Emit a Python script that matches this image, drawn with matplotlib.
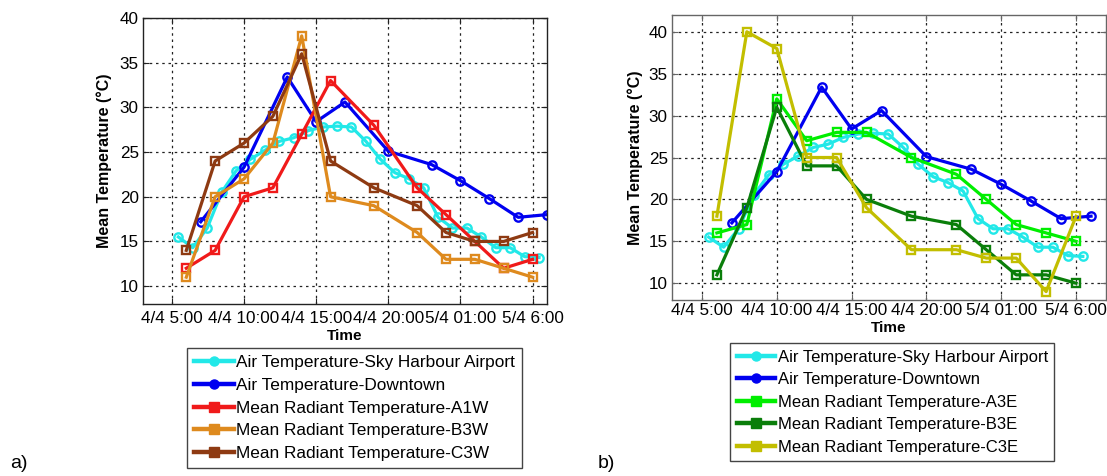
import matplotlib
matplotlib.use("Agg")
import matplotlib.pyplot as plt
from matplotlib.lines import Line2D

plt.rcParams['font.family'] = ['Liberation Sans', 'DejaVu Sans']

# ---- data (hours counted from 4/4 00:00) ----
sky_t = [5.45, 6.45, 7.45, 8.45, 9.45, 10.45, 11.45, 12.45, 13.45, 14.45, 15.45,
         16.45, 17.45, 18.45, 19.45, 20.45, 21.45, 22.45, 23.45, 24.45, 25.45,
         26.45, 27.45, 28.45, 29.45, 30.45]
sky_v = [15.5, 14.3, 16.5, 20.5, 22.9, 24.2, 25.2, 26.2, 26.6, 27.4, 27.8,
         27.9, 27.8, 26.2, 24.2, 22.7, 22.0, 21.0, 17.7, 16.5, 16.5,
         15.5, 14.3, 14.3, 13.3, 13.2]

down_t = [7, 10, 13, 15, 17, 20, 23, 25, 27, 29, 31]
down_v = [17.2, 23.3, 33.4, 28.4, 30.6, 25.1, 23.6, 21.8, 19.8, 17.7, 18.0]

mrt_t = [6, 8, 10, 12, 14, 16, 19, 22, 24, 26, 28, 30]
a1w = [12, 14, 20, 21, 27, 33, 28, 21, 18, 15, 12, 13]
b3w = [11, 20, 22, 26, 38, 20, 19, 16, 13, 13, 12, 11]
c3w = [14, 24, 26, 29, 36, 24, 21, 19, 16, 15, 15, 16]
a3e = [16, 17, 32, 27, 28, 28, 25, 23, 20, 17, 16, 15]
b3e = [11, 19, 31, 24, 24, 20, 18, 17, 14, 11, 11, 10]
c3e = [18, 40, 38, 25, 25, 19, 14, 14, 13, 13, 9, 18]

tick_pos = [5, 10, 15, 20, 25, 30]
tick_labels = ["4/4 5:00", "4/4 10:00", "4/4 15:00", "4/4 20:00", "5/4 01:00", "5/4 6:00"]
yticks = [10, 15, 20, 25, 30, 35, 40]

labels_w = ["Air Temperature-Sky Harbour Airport", "Air Temperature-Downtown",
            "Mean Radiant Temperature-A1W", "Mean Radiant Temperature-B3W",
            "Mean Radiant Temperature-C3W"]
labels_e = ["Air Temperature-Sky Harbour Airport", "Air Temperature-Downtown",
            "Mean Radiant Temperature-A3E", "Mean Radiant Temperature-B3E",
            "Mean Radiant Temperature-C3E"]

col_sky = '#22E8E8'
col_down = '#0000F0'
cols_w = ['#F01A1A', '#DE8A1E', '#8E3A12']
cols_e = ['#00EE00', '#0A7E0A', '#C2BE00']

W, H = 1107, 476
fig = plt.figure(figsize=(W / 100, H / 100), dpi=100)

def ax_rect(l, r, t, b):
    return [l / W, 1 - b / H, (r - l) / W, (b - t) / H]

axL = fig.add_axes(ax_rect(143, 547, 18, 304))
axR = fig.add_axes(ax_rect(672, 1106, 15, 300))

LW = 2.3
MS = 6
MEW = 1.7

def draw(ax, mrt_series, cols, labels, ylim, xlim, edgecol, tickpad):
    handles = []
    h, = ax.plot(sky_t, sky_v, '-o', color=col_sky, lw=LW, ms=MS, mew=MEW,
                 mfc='none', label=labels[0])
    handles.append(h)
    h, = ax.plot(down_t, down_v, '-o', color=col_down, lw=LW, ms=MS, mew=MEW,
                 mfc='none', label=labels[1])
    handles.append(h)
    for vals, c, lab in zip(mrt_series, cols, labels[2:]):
        h, = ax.plot(mrt_t, vals, '-s', color=c, lw=LW, ms=MS, mew=MEW,
                     mfc='none', label=lab)
        handles.append(h)
    ax.set_xlim(*xlim)
    ax.set_ylim(*ylim)
    ax.set_xticks(tick_pos)
    ax.set_xticklabels(tick_labels)
    ax.set_yticks(yticks)
    ax.grid(True, linestyle=(0, (2, 3)), color='#222222', linewidth=0.9)
    ax.tick_params(direction='in', labelsize=12.3, top=True, right=True,
                   length=4, color=edgecol)
    ax.tick_params(axis='x', pad=tickpad)
    ax.tick_params(axis='y', pad=3)
    for s in ax.spines.values():
        s.set_color(edgecol)
        s.set_linewidth(1.0)
    ax.set_xlabel('Time', fontsize=11, fontweight='bold', labelpad=2)
    return handles

hL = draw(axL, [a1w, b3w, c3w], cols_w, labels_w, (8, 40), (3, 31), '#222222', 5)
hR = draw(axR, [a3e, b3e, c3e], cols_e, labels_e, (8, 42), (3, 32), '#666666', 2)
axL.set_ylabel('Mean Temperature (°C)', fontsize=11.5, fontweight='bold', labelpad=6)
axR.set_ylabel('Mean Temperature (°C)', fontsize=11.5, fontweight='bold', labelpad=4)

def legend_handles(handles):
    out = []
    for h in handles:
        out.append(Line2D([], [], color=h.get_color(), lw=3.2, marker=h.get_marker(),
                          ms=6.5, mfc=h.get_color(), mec=h.get_color()))
    return out

legkw = dict(loc='upper left', labelspacing=0.45, handlelength=2.3,
             handletextpad=0.15, borderpad=0.4, borderaxespad=0, fancybox=False,
             framealpha=1)
lgL = fig.legend(legend_handles(hL), labels_w, bbox_to_anchor=(187 / W, 1 - 348 / H),
                 edgecolor='#444444', fontsize=12.4, **legkw)
lgR = fig.legend(legend_handles(hR), labels_e, bbox_to_anchor=(730 / W, 1 - 343 / H),
                 edgecolor='#444444', fontsize=12, **legkw)
for lg in (lgL, lgR):
    lg.get_frame().set_linewidth(1.0)

fig.text(10 / W, 1 - 463 / H, 'a)', fontsize=14, va='center', ha='left')
fig.text(598 / W, 1 - 463 / H, 'b)', fontsize=14, va='center', ha='left')

fig.savefig('out.png', dpi=100)
